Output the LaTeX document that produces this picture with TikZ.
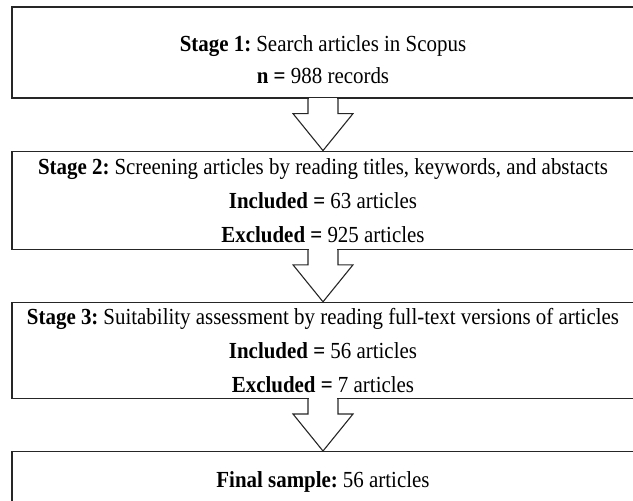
\documentclass[tikz,border=0pt]{standalone}
\usepackage{fontspec}
\setmainfont[FakeStretch=0.91]{Liberation Serif}
\usetikzlibrary{positioning,calc}

% hollow block arrow from the bottom of one box to the top of the next
\newcommand{\stagearrow}[2]{%
  \fill[white] ($(#1.south)+(-14.4,1)$) rectangle ($(#1.south)+(14.4,-15)$);
  \draw[arrowline] ($(#1.south)+(-15,0)$) -- ++(0,-15) -- ++(-15,0) -- (#2.north)
    -- ($(#1.south)+(30,-15)$) -- ++(-15,0) -- ++(0,15);
}

\begin{document}
\begin{tikzpicture}[x=1pt,y=1pt,
    stagebox/.style={draw=black!85,line width=1.2pt,minimum width=622pt,
      align=center,inner sep=0pt,font=\fontsize{23}{34}\selectfont},
    arrowline/.style={draw=black!85,line width=1.1pt,line join=miter}]
        \useasboundingbox (0,0) rectangle (633,-501);
        \node[stagebox,minimum height=91pt] (s1) at (323,-52.5)
          {\rule{0pt}{31pt}\textbf{Stage 1:}\hspace{-2pt} Search articles in Scopus\\[-2pt]
           \textbf{n =} 988 records};
        \node[stagebox,minimum height=98pt,below=52pt of s1] (s2)
          {\textbf{Stage 2:}\hspace{-2pt} Screening articles by reading titles, keywords, and abstacts\\
           \textbf{Included =} 63 articles\\
           \textbf{Excluded =} 925 articles};
        \node[stagebox,minimum height=96pt,below=52pt of s2] (s3)
          {\textbf{Stage 3:}\hspace{-2pt} Suitability assessment by reading full-text versions of articles\\
           \textbf{Included =} 56 articles\\
           \textbf{Excluded =} 7 articles};
        \node[stagebox,minimum height=60pt,below=52pt of s3] (s4)
          {\textbf{Final sample:}\hspace{-2pt} 56 articles};
        \stagearrow{s1}{s2}
        \stagearrow{s2}{s3}
        \stagearrow{s3}{s4}
    \end{tikzpicture}
\end{document}
